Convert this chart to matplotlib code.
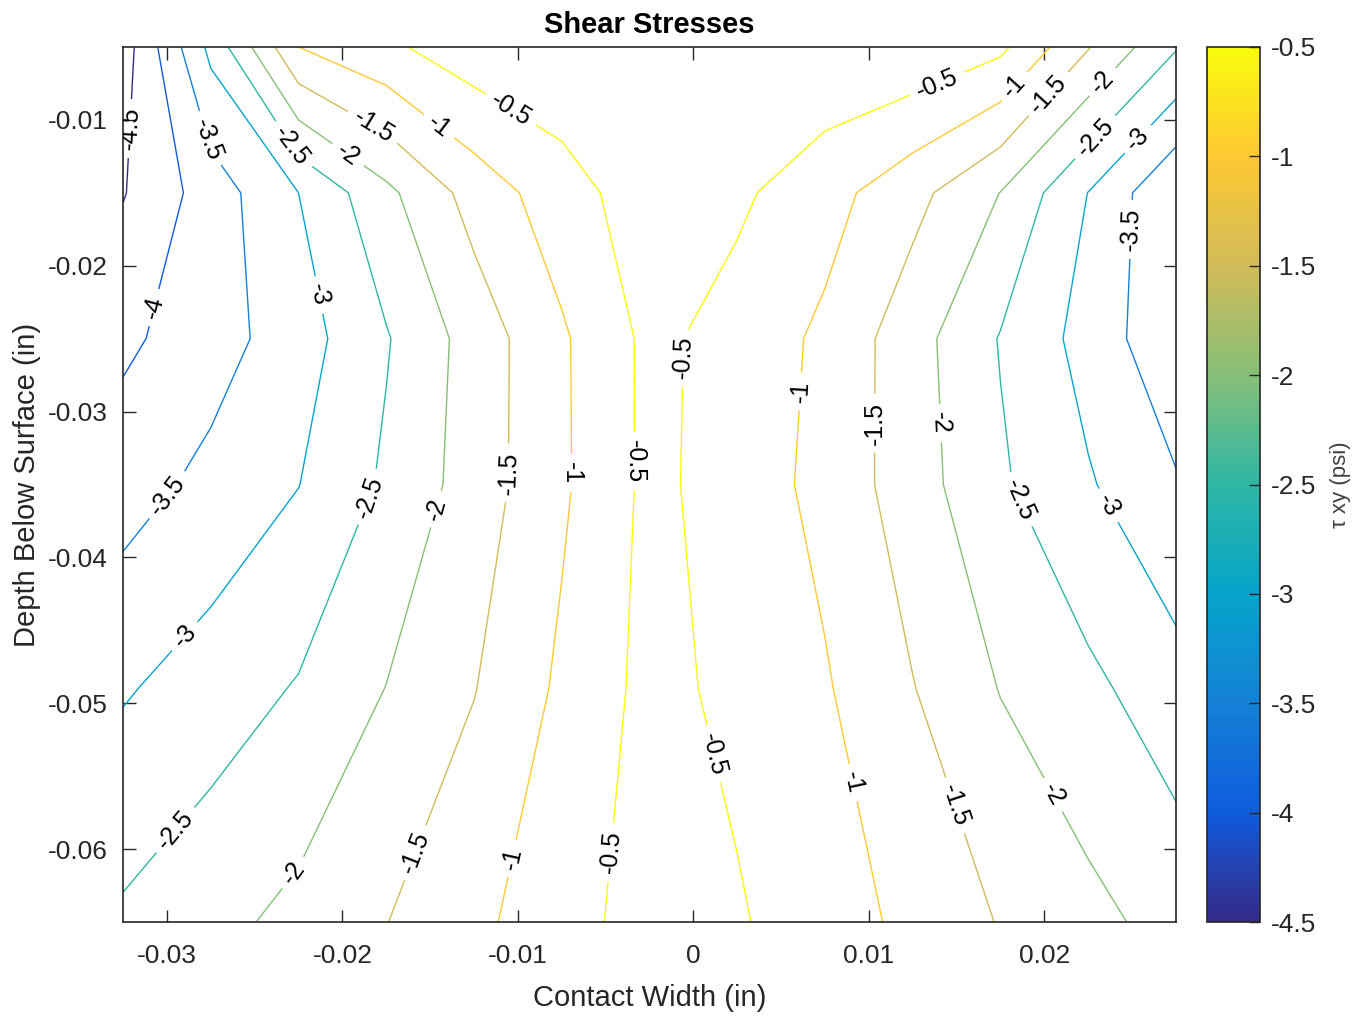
import numpy as np
import matplotlib
matplotlib.use("Agg")
import matplotlib.pyplot as plt
from matplotlib.colors import LinearSegmentedColormap, Normalize
from matplotlib.ticker import FormatStrFormatter

plt.rcParams['font.family'] = ['Liberation Sans', 'DejaVu Sans']
plt.rcParams['axes.unicode_minus'] = False

# contact width (in) - grid columns
x_pos = [-0.0325, -0.0275, -0.0225, -0.0175, -0.0125, -0.0075, -0.0025,
         0.0025, 0.0075, 0.0125, 0.0175, 0.0225, 0.0275]
# depth below surface (in) - grid rows
depth = [-0.005, -0.015, -0.025, -0.035, -0.049, -0.065]

# tau xy (psi), one list per depth row
tau_row1 = [-4.74, -2.87, -1.00, -0.60, -0.20, -0.10, -0.05, -0.05, -0.08, -0.10, -0.39, -1.47, -2.46]
tau_row2 = [-4.53, -3.76, -3.00, -2.12, -1.30, -0.72, -0.22, -0.41, -0.81, -1.34, -2.01, -3.01, -3.98]
tau_row3 = [-4.10, -3.72, -3.23, -2.54, -1.79, -1.07, -0.38, -0.69, -1.10, -1.80, -2.53, -3.19, -3.90]
tau_row4 = [-3.72, -3.36, -3.01, -2.42, -1.77, -1.08, -0.38, -0.72, -1.15, -1.77, -2.43, -2.95, -3.45]
tau_row5 = [-3.05, -2.76, -2.46, -1.99, -1.52, -0.91, -0.35, -0.62, -0.95, -1.48, -2.02, -2.38, -2.80]
tau_row6 = [-2.42, -2.15, -1.86, -1.51, -1.13, -0.66, -0.33, -0.45, -0.77, -1.12, -1.53, -1.86, -2.18]

levels = [-4.5, -4.0, -3.5, -3.0, -2.5, -2.0, -1.5, -1.0, -0.5]

# where the contour labels sit (x, y)
label_pos = [
    (-0.0320, -0.0106), (-0.0303, -0.0230), (-0.0273, -0.0112), (-0.0300, -0.0357),
    (-0.0213, -0.0220), (-0.0289, -0.0455), (-0.0229, -0.0118), (-0.0184, -0.0359),
    (-0.0297, -0.0585), (-0.0198, -0.0126), (-0.0146, -0.0367), (-0.0225, -0.0619),
    (-0.0186, -0.0112), (-0.0104, -0.0342), (-0.0155, -0.0604), (-0.0148, -0.0109),
    (-0.0069, -0.0342), (-0.0101, -0.0607), (-0.0107, -0.0099), (-0.0037, -0.0334),
    (-0.0049, -0.0602), (0.0140, -0.0078), (0.0000, -0.0263), (0.0011, -0.0535),
    (0.0184, -0.0078), (0.0068, -0.0287), (0.0092, -0.0554), (0.0203, -0.0083),
    (0.0106, -0.0308), (0.0147, -0.0571), (0.0235, -0.0076), (0.0139, -0.0308),
    (0.0203, -0.0564), (0.0230, -0.0113), (0.0183, -0.0362), (0.0254, -0.0114),
    (0.0234, -0.0366), (0.0248, -0.0175),
]

# parula-like colormap
parula_colors = ['#352a87', '#0f5cdd', '#1481d6', '#06a4ca', '#2eb7a4',
                 '#87bf77', '#d1bb59', '#fec832', '#f9fb0e']
parula = LinearSegmentedColormap.from_list('parula', parula_colors)
norm = Normalize(vmin=-4.5, vmax=-0.5)

X, Y = np.meshgrid(x_pos, depth)
tau = np.array([tau_row1, tau_row2, tau_row3, tau_row4, tau_row5, tau_row6])

fig = plt.figure(figsize=(13.64, 10.18), dpi=100)
ax = fig.add_axes([123 / 1364, 1 - 922 / 1018, 1053 / 1364, 875 / 1018])
cax = fig.add_axes([1207 / 1364, 1 - 922 / 1018, 53 / 1364, 875 / 1018])

cs = ax.contour(X, Y, tau, levels=levels, cmap=parula, norm=norm, linewidths=1.0)
ax.clabel(cs, inline=True, fontsize=18, fmt='%g', colors='black',
          manual=label_pos, inline_spacing=8)

ax.set_xlim(x_pos[0], x_pos[-1])
ax.set_ylim(depth[-1], depth[0])
ax.set_xticks([-0.03, -0.02, -0.01, 0, 0.01, 0.02])
ax.set_yticks([-0.06, -0.05, -0.04, -0.03, -0.02, -0.01])
ax.xaxis.set_major_formatter(FormatStrFormatter('%g'))
ax.yaxis.set_major_formatter(FormatStrFormatter('%g'))
ax.tick_params(direction='in', length=9, width=1.0, top=True, right=True,
               labelsize=19, colors='#262626')
ax.tick_params(axis='x', pad=16)
ax.tick_params(axis='y', pad=11)
for sp in ax.spines.values():
    sp.set_linewidth(1.2)
    sp.set_color('#262626')

ax.set_xlabel('Contact Width (in)', fontsize=21, color='#262626', labelpad=11)
ax.set_ylabel('Depth Below Surface (in)', fontsize=21, color='#262626', labelpad=5)
ax.set_title('Shear Stresses', fontsize=21, fontweight='bold', pad=10)

sm = matplotlib.cm.ScalarMappable(norm=norm, cmap=parula)
cb = fig.colorbar(sm, cax=cax, ticks=levels)
cb.ax.yaxis.set_major_formatter(FormatStrFormatter('%g'))
cb.ax.tick_params(direction='in', length=8, width=1.0, labelsize=19,
                  colors='#262626', pad=8)
cb.outline.set_linewidth(1.2)
cb.outline.set_edgecolor('#262626')
cb.set_label('τ xy (psi)', fontsize=16, color='#404040', labelpad=10)

fig.savefig('out.png', dpi=100)
